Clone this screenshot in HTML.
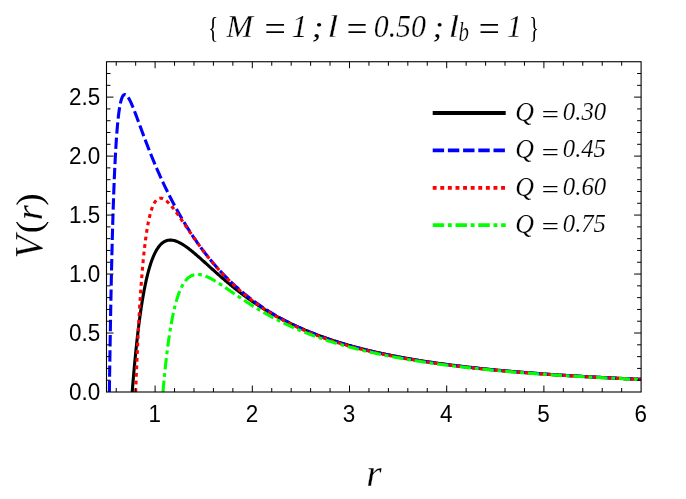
<!DOCTYPE html>
<html><head><meta charset="utf-8"><title>plot</title>
<style>
html,body{margin:0;padding:0;background:#fff;}
svg{display:block;will-change:transform}
.sans text{font-family:"Liberation Sans",sans-serif;font-size:22.7px;fill:#000}
.ser{font-family:"Liberation Serif",serif;fill:#000;stroke:#fff;stroke-width:0.25px}
</style></head><body>
<svg width="686" height="499" viewBox="0 0 686 499">
<rect width="686" height="499" fill="#fff"/>
<defs><clipPath id="c"><rect x="106.5" y="61.74" width="534.60" height="330.26"/></clipPath></defs>
<g clip-path="url(#c)" fill="none" stroke-width="3.1" stroke-linejoin="round">
<path d="M132.22 392.00 L132.35 390.34 L132.53 388.11 L132.70 385.91 L132.88 383.73 L133.06 381.58 L133.24 379.45 L133.42 377.36 L133.60 375.29 L133.77 373.24 L133.95 371.22 L134.13 369.23 L134.31 367.26 L134.49 365.32 L134.66 363.40 L134.84 361.50 L135.02 359.63 L135.20 357.79 L135.38 355.96 L135.56 354.16 L135.73 352.38 L135.91 350.63 L136.09 348.90 L136.27 347.19 L136.45 345.50 L136.63 343.83 L136.80 342.19 L136.98 340.56 L137.16 338.96 L137.34 337.38 L137.52 335.81 L137.70 334.27 L137.87 332.75 L138.05 331.25 L138.23 329.77 L138.41 328.30 L138.59 326.86 L138.76 325.43 L138.94 324.03 L139.12 322.64 L139.30 321.27 L139.48 319.92 L139.66 318.58 L139.83 317.27 L140.01 315.97 L140.19 314.69 L140.37 313.42 L140.55 312.18 L140.73 310.95 L140.90 309.73 L141.08 308.53 L141.26 307.35 L141.44 306.19 L141.62 305.04 L141.80 303.90 L141.97 302.78 L142.15 301.68 L142.33 300.59 L142.51 299.52 L142.69 298.46 L142.86 297.41 L143.04 296.38 L143.22 295.37 L143.40 294.37 L143.58 293.38 L143.76 292.40 L143.93 291.44 L144.11 290.50 L144.29 289.56 L144.47 288.64 L144.65 287.73 L144.83 286.84 L145.00 285.96 L145.18 285.09 L145.36 284.23 L145.54 283.38 L145.72 282.55 L145.90 281.73 L146.07 280.92 L146.25 280.12 L146.43 279.34 L146.61 278.56 L146.79 277.80 L146.96 277.05 L147.14 276.31 L147.32 275.58 L147.50 274.86 L147.68 274.15 L147.86 273.45 L148.03 272.76 L148.21 272.09 L148.39 271.42 L148.57 270.76 L148.75 270.12 L148.93 269.48 L149.10 268.85 L149.46 267.63 L149.82 266.44 L150.17 265.29 L150.53 264.17 L150.89 263.09 L151.24 262.04 L151.60 261.03 L151.96 260.05 L152.31 259.11 L152.67 258.19 L153.03 257.30 L153.38 256.45 L153.74 255.62 L154.10 254.82 L154.45 254.05 L154.81 253.31 L155.16 252.60 L155.52 251.91 L155.88 251.24 L156.23 250.60 L156.59 249.99 L156.95 249.40 L157.30 248.83 L157.66 248.28 L158.02 247.76 L158.37 247.26 L158.73 246.78 L159.09 246.32 L159.62 245.67 L160.16 245.06 L160.69 244.49 L161.23 243.97 L161.76 243.48 L162.30 243.03 L162.83 242.62 L163.36 242.25 L163.90 241.91 L164.43 241.60 L164.97 241.32 L165.68 241.00 L166.40 240.74 L167.11 240.52 L167.82 240.35 L168.53 240.22 L169.43 240.13 L170.32 240.09 L171.21 240.12 L172.10 240.20 L172.81 240.31 L173.53 240.45 L174.24 240.61 L174.95 240.81 L175.66 241.04 L176.38 241.29 L177.09 241.56 L177.80 241.86 L178.52 242.18 L179.23 242.53 L179.76 242.80 L180.30 243.08 L180.83 243.37 L181.37 243.68 L181.90 243.99 L182.44 244.31 L182.97 244.64 L183.51 244.98 L184.04 245.33 L184.58 245.68 L185.11 246.04 L185.65 246.41 L186.18 246.79 L186.72 247.17 L187.25 247.56 L187.79 247.96 L188.32 248.36 L188.86 248.77 L189.39 249.18 L189.93 249.60 L190.46 250.02 L190.99 250.44 L191.53 250.87 L192.06 251.31 L192.60 251.75 L193.13 252.19 L193.67 252.63 L194.20 253.08 L194.74 253.53 L195.27 253.99 L195.81 254.45 L196.34 254.91 L196.88 255.37 L197.41 255.83 L197.95 256.30 L198.48 256.77 L199.02 257.24 L199.55 257.71 L200.09 258.18 L200.62 258.66 L201.16 259.14 L201.69 259.61 L202.23 260.09 L202.76 260.57 L203.29 261.05 L203.83 261.53 L204.36 262.01 L204.90 262.50 L205.43 262.98 L205.97 263.46 L206.50 263.94 L207.04 264.43 L207.57 264.91 L208.11 265.39 L208.64 265.88 L209.18 266.36 L209.71 266.84 L210.25 267.32 L210.78 267.81 L211.32 268.29 L211.85 268.77 L212.39 269.25 L212.92 269.73 L213.46 270.21 L213.99 270.69 L214.53 271.17 L215.06 271.64 L215.59 272.12 L216.13 272.60 L216.66 273.07 L217.20 273.54 L217.73 274.02 L218.27 274.49 L218.80 274.96 L219.34 275.43 L219.87 275.90 L220.41 276.36 L220.94 276.83 L221.48 277.29 L222.01 277.76 L222.55 278.22 L223.08 278.68 L223.62 279.14 L224.15 279.59 L224.69 280.05 L225.22 280.50 L225.76 280.96 L226.29 281.41 L226.83 281.86 L227.36 282.31 L227.89 282.76 L228.43 283.20 L228.96 283.65 L229.50 284.09 L230.03 284.53 L230.57 284.97 L231.10 285.41 L231.64 285.84 L232.17 286.28 L232.71 286.71 L233.24 287.14 L233.78 287.57 L234.31 288.00 L234.85 288.42 L235.38 288.85 L235.92 289.27 L236.45 289.69 L236.99 290.11 L237.52 290.53 L238.06 290.94 L238.59 291.36 L239.13 291.77 L239.66 292.18 L240.19 292.59 L240.73 292.99 L241.26 293.40 L241.80 293.80 L242.33 294.20 L242.87 294.60 L243.40 295.00 L243.94 295.40 L244.47 295.79 L245.01 296.18 L245.54 296.57 L246.08 296.96 L246.61 297.35 L247.15 297.74 L247.68 298.12 L248.22 298.50 L248.75 298.88 L249.29 299.26 L249.82 299.64 L250.36 300.01 L250.89 300.39 L251.42 300.76 L251.96 301.13 L252.49 301.49 L253.03 301.86 L253.56 302.23 L254.10 302.59 L254.63 302.95 L255.17 303.31 L255.70 303.67 L256.24 304.02 L256.77 304.38 L257.31 304.73 L257.84 305.08 L258.38 305.43 L258.91 305.78 L259.45 306.12 L259.98 306.46 L260.52 306.81 L261.05 307.15 L261.59 307.49 L262.12 307.82 L262.66 308.16 L263.19 308.49 L263.72 308.83 L264.26 309.16 L264.79 309.48 L265.33 309.81 L265.86 310.14 L266.40 310.46 L266.93 310.78 L267.47 311.11 L268.00 311.42 L268.54 311.74 L269.07 312.06 L269.61 312.37 L270.14 312.69 L270.68 313.00 L271.21 313.31 L271.75 313.62 L272.28 313.92 L272.82 314.23 L273.35 314.53 L273.89 314.83 L274.42 315.13 L274.96 315.43 L275.49 315.73 L276.02 316.03 L276.56 316.32 L277.09 316.62 L277.63 316.91 L278.16 317.20 L278.70 317.49 L279.23 317.77 L279.77 318.06 L280.30 318.34 L280.84 318.63 L281.37 318.91 L281.91 319.19 L282.44 319.47 L282.98 319.75 L283.51 320.02 L284.05 320.30 L284.58 320.57 L285.12 320.84 L285.65 321.11 L286.19 321.38 L286.72 321.65 L287.26 321.92 L287.97 322.27 L288.68 322.62 L289.39 322.97 L290.11 323.31 L290.82 323.66 L291.53 324.00 L292.25 324.34 L292.96 324.68 L293.67 325.01 L294.39 325.34 L295.10 325.67 L295.81 326.00 L296.52 326.33 L297.24 326.65 L297.95 326.97 L298.66 327.29 L299.38 327.61 L300.09 327.92 L300.80 328.24 L301.52 328.55 L302.23 328.86 L302.94 329.16 L303.65 329.47 L304.37 329.77 L305.08 330.07 L305.79 330.37 L306.51 330.67 L307.22 330.96 L307.93 331.26 L308.65 331.55 L309.36 331.84 L310.07 332.13 L310.79 332.41 L311.50 332.69 L312.21 332.98 L312.92 333.26 L313.64 333.53 L314.35 333.81 L315.06 334.08 L315.78 334.36 L316.49 334.63 L317.20 334.90 L317.92 335.16 L318.63 335.43 L319.34 335.69 L320.05 335.96 L320.77 336.22 L321.48 336.48 L322.19 336.73 L322.91 336.99 L323.62 337.24 L324.33 337.49 L325.05 337.74 L325.76 337.99 L326.47 338.24 L327.19 338.49 L327.90 338.73 L328.61 338.97 L329.32 339.21 L330.04 339.45 L330.75 339.69 L331.46 339.93 L332.18 340.16 L332.89 340.40 L333.60 340.63 L334.32 340.86 L335.03 341.09 L335.74 341.32 L336.45 341.54 L337.17 341.77 L337.88 341.99 L338.59 342.21 L339.31 342.44 L340.02 342.65 L340.73 342.87 L341.45 343.09 L342.16 343.30 L342.87 343.52 L343.59 343.73 L344.30 343.94 L345.01 344.15 L345.72 344.36 L346.44 344.57 L347.15 344.77 L347.86 344.98 L348.58 345.18 L349.29 345.38 L350.00 345.59 L350.72 345.79 L351.43 345.98 L352.14 346.18 L352.85 346.38 L353.57 346.57 L354.28 346.77 L354.99 346.96 L355.71 347.15 L356.42 347.34 L357.13 347.53 L357.85 347.72 L358.56 347.91 L359.27 348.09 L359.98 348.28 L360.70 348.46 L361.41 348.64 L362.12 348.82 L362.84 349.00 L363.55 349.18 L364.26 349.36 L364.98 349.54 L365.69 349.71 L366.40 349.89 L367.12 350.06 L367.83 350.24 L368.54 350.41 L369.25 350.58 L369.97 350.75 L370.68 350.92 L371.39 351.09 L372.11 351.25 L372.82 351.42 L373.53 351.58 L374.25 351.75 L374.96 351.91 L375.67 352.07 L376.38 352.23 L377.10 352.40 L377.81 352.55 L378.52 352.71 L379.24 352.87 L379.95 353.03 L380.66 353.18 L381.38 353.34 L382.09 353.49 L382.80 353.64 L383.52 353.80 L384.23 353.95 L384.94 354.10 L385.65 354.25 L386.37 354.40 L387.08 354.54 L387.79 354.69 L388.51 354.84 L389.22 354.98 L389.93 355.13 L390.65 355.27 L391.36 355.41 L392.07 355.56 L392.78 355.70 L393.50 355.84 L394.21 355.98 L394.92 356.12 L395.64 356.26 L396.35 356.39 L397.06 356.53 L397.78 356.67 L398.49 356.80 L399.20 356.94 L399.92 357.07 L400.63 357.20 L401.34 357.33 L402.05 357.47 L402.77 357.60 L403.48 357.73 L404.19 357.86 L404.91 357.98 L405.62 358.11 L406.33 358.24 L407.05 358.37 L407.76 358.49 L408.47 358.62 L409.18 358.74 L409.90 358.87 L410.61 358.99 L411.32 359.11 L412.04 359.23 L412.75 359.35 L413.46 359.47 L414.18 359.59 L414.89 359.71 L415.60 359.83 L416.31 359.95 L417.03 360.07 L417.74 360.18 L418.45 360.30 L419.17 360.42 L419.88 360.53 L420.59 360.65 L421.31 360.76 L422.02 360.87 L422.73 360.98 L423.45 361.10 L424.16 361.21 L424.87 361.32 L425.58 361.43 L426.30 361.54 L427.01 361.65 L427.72 361.76 L428.44 361.86 L429.15 361.97 L429.86 362.08 L430.58 362.18 L431.29 362.29 L432.00 362.39 L432.71 362.50 L433.43 362.60 L434.14 362.71 L434.85 362.81 L435.57 362.91 L436.28 363.01 L436.99 363.12 L437.71 363.22 L438.42 363.32 L439.13 363.42 L439.85 363.52 L440.56 363.61 L441.27 363.71 L441.98 363.81 L442.70 363.91 L443.41 364.01 L444.12 364.10 L444.84 364.20 L445.55 364.29 L446.26 364.39 L446.98 364.48 L447.69 364.58 L448.40 364.67 L449.11 364.76 L449.83 364.86 L450.54 364.95 L451.25 365.04 L451.97 365.13 L452.68 365.22 L453.39 365.31 L454.11 365.40 L454.82 365.49 L455.53 365.58 L456.24 365.67 L456.96 365.76 L457.67 365.84 L458.38 365.93 L459.28 366.04 L460.17 366.15 L461.06 366.25 L461.95 366.36 L462.84 366.47 L463.73 366.57 L464.62 366.68 L465.51 366.78 L466.41 366.88 L467.30 366.99 L468.19 367.09 L469.08 367.19 L469.97 367.29 L470.86 367.39 L471.75 367.49 L472.64 367.59 L473.54 367.69 L474.43 367.79 L475.32 367.88 L476.21 367.98 L477.10 368.08 L477.99 368.17 L478.88 368.27 L479.78 368.36 L480.67 368.46 L481.56 368.55 L482.45 368.64 L483.34 368.74 L484.23 368.83 L485.12 368.92 L486.01 369.01 L486.91 369.10 L487.80 369.19 L488.69 369.28 L489.58 369.37 L490.47 369.46 L491.36 369.54 L492.25 369.63 L493.14 369.72 L494.04 369.80 L494.93 369.89 L495.82 369.97 L496.71 370.06 L497.60 370.14 L498.49 370.23 L499.38 370.31 L500.28 370.39 L501.17 370.48 L502.06 370.56 L502.95 370.64 L503.84 370.72 L504.73 370.80 L505.62 370.88 L506.51 370.96 L507.41 371.04 L508.30 371.12 L509.19 371.20 L510.08 371.27 L510.97 371.35 L511.86 371.43 L512.75 371.51 L513.64 371.58 L514.54 371.66 L515.43 371.73 L516.32 371.81 L517.21 371.88 L518.10 371.96 L518.99 372.03 L519.88 372.10 L520.77 372.18 L521.67 372.25 L522.56 372.32 L523.45 372.39 L524.34 372.46 L525.23 372.54 L526.12 372.61 L527.01 372.68 L527.91 372.75 L528.80 372.82 L529.69 372.88 L530.58 372.95 L531.47 373.02 L532.36 373.09 L533.25 373.16 L534.14 373.22 L535.04 373.29 L535.93 373.36 L536.82 373.42 L537.71 373.49 L538.60 373.56 L539.49 373.62 L540.38 373.69 L541.27 373.75 L542.17 373.82 L543.06 373.88 L543.95 373.94 L544.84 374.01 L545.73 374.07 L546.62 374.13 L547.51 374.19 L548.41 374.26 L549.30 374.32 L550.19 374.38 L551.08 374.44 L551.97 374.50 L552.86 374.56 L553.75 374.62 L554.64 374.68 L555.54 374.74 L556.43 374.80 L557.32 374.86 L558.21 374.92 L559.10 374.97 L559.99 375.03 L560.88 375.09 L561.77 375.15 L562.67 375.20 L563.56 375.26 L564.45 375.32 L565.34 375.37 L566.23 375.43 L567.12 375.49 L568.01 375.54 L568.90 375.60 L569.80 375.65 L570.69 375.71 L571.58 375.76 L572.47 375.81 L573.36 375.87 L574.25 375.92 L575.14 375.97 L576.04 376.03 L576.93 376.08 L577.82 376.13 L578.71 376.19 L579.60 376.24 L580.49 376.29 L581.38 376.34 L582.27 376.39 L583.17 376.44 L584.06 376.49 L584.95 376.54 L585.84 376.59 L586.73 376.64 L587.62 376.69 L588.51 376.74 L589.40 376.79 L590.30 376.84 L591.19 376.89 L592.08 376.94 L592.97 376.99 L593.86 377.04 L594.75 377.08 L595.64 377.13 L596.54 377.18 L597.43 377.23 L598.32 377.27 L599.21 377.32 L600.10 377.37 L600.99 377.41 L601.88 377.46 L602.77 377.50 L603.67 377.55 L604.56 377.60 L605.45 377.64 L606.34 377.69 L607.23 377.73 L608.12 377.78 L609.01 377.82 L609.90 377.86 L610.80 377.91 L611.69 377.95 L612.58 378.00 L613.47 378.04 L614.36 378.08 L615.25 378.13 L616.14 378.17 L617.03 378.21 L617.93 378.25 L618.82 378.30 L619.71 378.34 L620.60 378.38 L621.49 378.42 L622.38 378.46 L623.27 378.50 L624.17 378.54 L625.06 378.59 L625.95 378.63 L626.84 378.67 L627.73 378.71 L628.62 378.75 L629.51 378.79 L630.40 378.83 L631.30 378.87 L632.19 378.91 L633.08 378.95 L633.97 378.99 L634.86 379.02 L635.75 379.06 L636.64 379.10 L637.53 379.14 L638.43 379.18 L639.32 379.22 L640.21 379.25 L641.10 379.29 L641.10 379.29" stroke="#000"/>
<path d="M109.37 392.00 L109.53 381.10 L109.71 369.16 L109.89 357.67 L110.07 346.61 L110.24 335.97 L110.42 325.73 L110.60 315.88 L110.78 306.40 L110.96 297.29 L111.13 288.52 L111.31 280.08 L111.49 271.96 L111.67 264.16 L111.85 256.65 L112.03 249.44 L112.20 242.50 L112.38 235.83 L112.56 229.41 L112.74 223.25 L112.92 217.32 L113.10 211.62 L113.27 206.15 L113.45 200.89 L113.63 195.84 L113.81 190.99 L113.99 186.33 L114.17 181.86 L114.34 177.57 L114.52 173.44 L114.70 169.49 L114.88 165.69 L115.06 162.05 L115.23 158.56 L115.41 155.21 L115.59 152.00 L115.77 148.93 L115.95 145.98 L116.13 143.16 L116.30 140.46 L116.48 137.87 L116.66 135.40 L116.84 133.03 L117.02 130.77 L117.20 128.61 L117.37 126.54 L117.55 124.57 L117.73 122.69 L117.91 120.89 L118.09 119.18 L118.27 117.55 L118.44 115.99 L118.62 114.52 L118.80 113.11 L118.98 111.77 L119.16 110.51 L119.33 109.30 L119.51 108.16 L119.69 107.08 L119.87 106.06 L120.05 105.10 L120.23 104.19 L120.40 103.33 L120.58 102.52 L120.76 101.76 L120.94 101.05 L121.12 100.39 L121.30 99.76 L121.65 98.65 L122.01 97.68 L122.37 96.87 L122.72 96.19 L123.08 95.64 L123.61 95.03 L124.15 94.66 L124.86 94.49 L125.57 94.65 L126.11 94.95 L126.64 95.40 L127.18 95.98 L127.53 96.42 L127.89 96.91 L128.25 97.45 L128.60 98.02 L128.96 98.64 L129.32 99.28 L129.67 99.96 L130.03 100.66 L130.39 101.40 L130.74 102.15 L131.10 102.93 L131.46 103.73 L131.81 104.55 L132.17 105.38 L132.53 106.24 L132.88 107.10 L133.24 107.98 L133.60 108.87 L133.95 109.77 L134.31 110.68 L134.66 111.60 L135.02 112.53 L135.38 113.46 L135.73 114.40 L136.09 115.35 L136.45 116.30 L136.80 117.25 L137.16 118.21 L137.52 119.17 L137.87 120.13 L138.23 121.09 L138.59 122.06 L138.94 123.03 L139.30 123.99 L139.66 124.96 L140.01 125.93 L140.37 126.90 L140.73 127.86 L141.08 128.83 L141.44 129.79 L141.80 130.75 L142.15 131.72 L142.51 132.67 L142.86 133.63 L143.22 134.59 L143.58 135.54 L143.93 136.49 L144.29 137.44 L144.65 138.38 L145.00 139.33 L145.36 140.26 L145.72 141.20 L146.07 142.13 L146.43 143.06 L146.79 143.99 L147.14 144.92 L147.50 145.84 L147.86 146.75 L148.21 147.67 L148.57 148.58 L148.93 149.48 L149.28 150.39 L149.64 151.29 L150.00 152.18 L150.35 153.08 L150.71 153.96 L151.06 154.85 L151.42 155.73 L151.78 156.61 L152.13 157.48 L152.49 158.35 L152.85 159.22 L153.20 160.09 L153.56 160.95 L153.92 161.80 L154.27 162.65 L154.63 163.50 L154.99 164.35 L155.34 165.19 L155.70 166.03 L156.06 166.86 L156.41 167.69 L156.77 168.52 L157.13 169.34 L157.48 170.16 L157.84 170.98 L158.20 171.79 L158.55 172.60 L158.91 173.41 L159.26 174.21 L159.62 175.01 L159.98 175.80 L160.33 176.60 L160.69 177.38 L161.05 178.17 L161.40 178.95 L161.76 179.73 L162.12 180.50 L162.47 181.27 L162.83 182.04 L163.19 182.81 L163.54 183.57 L163.90 184.33 L164.26 185.08 L164.61 185.83 L164.97 186.58 L165.33 187.33 L165.68 188.07 L166.04 188.81 L166.40 189.54 L166.75 190.27 L167.11 191.00 L167.46 191.73 L167.82 192.45 L168.18 193.17 L168.53 193.89 L168.89 194.60 L169.25 195.31 L169.60 196.02 L169.96 196.72 L170.32 197.42 L170.67 198.12 L171.03 198.81 L171.39 199.51 L171.74 200.20 L172.10 200.88 L172.46 201.56 L172.81 202.24 L173.17 202.92 L173.53 203.60 L173.88 204.27 L174.24 204.94 L174.60 205.60 L174.95 206.26 L175.31 206.92 L175.66 207.58 L176.02 208.24 L176.38 208.89 L176.73 209.54 L177.09 210.18 L177.45 210.82 L177.80 211.46 L178.16 212.10 L178.52 212.74 L178.87 213.37 L179.23 214.00 L179.59 214.63 L179.94 215.25 L180.30 215.87 L180.66 216.49 L181.01 217.11 L181.37 217.72 L181.73 218.33 L182.08 218.94 L182.44 219.54 L182.80 220.15 L183.15 220.75 L183.51 221.34 L183.86 221.94 L184.22 222.53 L184.58 223.12 L184.93 223.71 L185.29 224.30 L185.65 224.88 L186.00 225.46 L186.36 226.04 L186.72 226.61 L187.07 227.18 L187.43 227.75 L187.79 228.32 L188.14 228.89 L188.50 229.45 L188.86 230.01 L189.21 230.57 L189.57 231.13 L189.93 231.68 L190.28 232.23 L190.64 232.78 L190.99 233.33 L191.35 233.87 L191.71 234.41 L192.06 234.95 L192.42 235.49 L192.78 236.02 L193.13 236.56 L193.49 237.09 L193.85 237.61 L194.20 238.14 L194.56 238.66 L194.92 239.18 L195.27 239.70 L195.63 240.22 L195.99 240.73 L196.34 241.25 L196.70 241.76 L197.06 242.27 L197.41 242.77 L197.77 243.28 L198.13 243.78 L198.48 244.28 L198.84 244.77 L199.19 245.27 L199.55 245.76 L199.91 246.25 L200.26 246.74 L200.62 247.23 L200.98 247.71 L201.33 248.20 L201.69 248.68 L202.05 249.16 L202.40 249.63 L202.76 250.11 L203.12 250.58 L203.47 251.05 L203.83 251.52 L204.19 251.99 L204.54 252.45 L204.90 252.91 L205.26 253.37 L205.61 253.83 L205.97 254.29 L206.33 254.75 L206.68 255.20 L207.04 255.65 L207.39 256.10 L207.75 256.55 L208.11 256.99 L208.64 257.66 L209.18 258.32 L209.71 258.97 L210.25 259.62 L210.78 260.27 L211.32 260.92 L211.85 261.55 L212.39 262.19 L212.92 262.82 L213.46 263.45 L213.99 264.07 L214.53 264.69 L215.06 265.31 L215.59 265.92 L216.13 266.53 L216.66 267.13 L217.20 267.73 L217.73 268.33 L218.27 268.92 L218.80 269.51 L219.34 270.10 L219.87 270.68 L220.41 271.26 L220.94 271.83 L221.48 272.40 L222.01 272.97 L222.55 273.53 L223.08 274.09 L223.62 274.65 L224.15 275.20 L224.69 275.75 L225.22 276.30 L225.76 276.84 L226.29 277.38 L226.83 277.92 L227.36 278.45 L227.89 278.98 L228.43 279.51 L228.96 280.03 L229.50 280.55 L230.03 281.06 L230.57 281.58 L231.10 282.09 L231.64 282.60 L232.17 283.10 L232.71 283.60 L233.24 284.10 L233.78 284.59 L234.31 285.08 L234.85 285.57 L235.38 286.06 L235.92 286.54 L236.45 287.02 L236.99 287.50 L237.52 287.97 L238.06 288.44 L238.59 288.91 L239.13 289.37 L239.66 289.84 L240.19 290.30 L240.73 290.75 L241.26 291.21 L241.80 291.66 L242.33 292.11 L242.87 292.55 L243.40 292.99 L243.94 293.43 L244.47 293.87 L245.01 294.31 L245.54 294.74 L246.08 295.17 L246.61 295.60 L247.15 296.02 L247.68 296.44 L248.22 296.86 L248.75 297.28 L249.29 297.69 L249.82 298.11 L250.36 298.52 L250.89 298.92 L251.42 299.33 L251.96 299.73 L252.49 300.13 L253.03 300.53 L253.56 300.92 L254.10 301.32 L254.63 301.71 L255.17 302.09 L255.70 302.48 L256.24 302.86 L256.77 303.24 L257.31 303.62 L257.84 304.00 L258.38 304.37 L258.91 304.75 L259.45 305.12 L259.98 305.49 L260.52 305.85 L261.05 306.22 L261.59 306.58 L262.12 306.94 L262.66 307.29 L263.19 307.65 L263.72 308.00 L264.26 308.35 L264.79 308.70 L265.33 309.05 L265.86 309.40 L266.40 309.74 L266.93 310.08 L267.47 310.42 L268.00 310.76 L268.54 311.09 L269.07 311.43 L269.61 311.76 L270.14 312.09 L270.68 312.41 L271.21 312.74 L271.75 313.06 L272.28 313.39 L272.82 313.71 L273.35 314.02 L273.89 314.34 L274.42 314.66 L274.96 314.97 L275.49 315.28 L276.02 315.59 L276.56 315.90 L277.09 316.20 L277.63 316.51 L278.16 316.81 L278.70 317.11 L279.23 317.41 L279.77 317.71 L280.30 318.01 L280.84 318.30 L281.37 318.59 L281.91 318.88 L282.44 319.17 L282.98 319.46 L283.51 319.75 L284.05 320.03 L284.58 320.31 L285.12 320.60 L285.65 320.88 L286.19 321.15 L286.72 321.43 L287.26 321.71 L287.79 321.98 L288.32 322.25 L288.86 322.52 L289.39 322.79 L289.93 323.06 L290.46 323.33 L291.18 323.68 L291.89 324.03 L292.60 324.38 L293.32 324.72 L294.03 325.07 L294.74 325.41 L295.45 325.74 L296.17 326.08 L296.88 326.41 L297.59 326.74 L298.31 327.07 L299.02 327.40 L299.73 327.72 L300.45 328.04 L301.16 328.36 L301.87 328.68 L302.59 328.99 L303.30 329.31 L304.01 329.62 L304.72 329.92 L305.44 330.23 L306.15 330.53 L306.86 330.83 L307.58 331.13 L308.29 331.43 L309.00 331.73 L309.72 332.02 L310.43 332.31 L311.14 332.60 L311.85 332.89 L312.57 333.17 L313.28 333.46 L313.99 333.74 L314.71 334.02 L315.42 334.29 L316.13 334.57 L316.85 334.84 L317.56 335.12 L318.27 335.39 L318.99 335.65 L319.70 335.92 L320.41 336.19 L321.12 336.45 L321.84 336.71 L322.55 336.97 L323.26 337.23 L323.98 337.48 L324.69 337.74 L325.40 337.99 L326.12 338.24 L326.83 338.49 L327.54 338.74 L328.25 338.98 L328.97 339.23 L329.68 339.47 L330.39 339.71 L331.11 339.95 L331.82 340.19 L332.53 340.42 L333.25 340.66 L333.96 340.89 L334.67 341.12 L335.39 341.35 L336.10 341.58 L336.81 341.81 L337.52 342.03 L338.24 342.26 L338.95 342.48 L339.66 342.70 L340.38 342.92 L341.09 343.14 L341.80 343.36 L342.52 343.57 L343.23 343.79 L343.94 344.00 L344.65 344.21 L345.37 344.42 L346.08 344.63 L346.79 344.84 L347.51 345.04 L348.22 345.25 L348.93 345.45 L349.65 345.66 L350.36 345.86 L351.07 346.06 L351.78 346.26 L352.50 346.45 L353.21 346.65 L353.92 346.84 L354.64 347.04 L355.35 347.23 L356.06 347.42 L356.78 347.61 L357.49 347.80 L358.20 347.99 L358.92 348.18 L359.63 348.36 L360.34 348.55 L361.05 348.73 L361.77 348.91 L362.48 349.09 L363.19 349.27 L363.91 349.45 L364.62 349.63 L365.33 349.81 L366.05 349.98 L366.76 350.16 L367.47 350.33 L368.18 350.50 L368.90 350.67 L369.61 350.84 L370.32 351.01 L371.04 351.18 L371.75 351.35 L372.46 351.52 L373.18 351.68 L373.89 351.85 L374.60 352.01 L375.32 352.17 L376.03 352.33 L376.74 352.49 L377.45 352.65 L378.17 352.81 L378.88 352.97 L379.59 353.13 L380.31 353.28 L381.02 353.44 L381.73 353.59 L382.45 353.74 L383.16 353.90 L383.87 354.05 L384.58 354.20 L385.30 354.35 L386.01 354.50 L386.72 354.65 L387.44 354.79 L388.15 354.94 L388.86 355.08 L389.58 355.23 L390.29 355.37 L391.00 355.52 L391.72 355.66 L392.43 355.80 L393.14 355.94 L393.85 356.08 L394.57 356.22 L395.28 356.36 L395.99 356.49 L396.71 356.63 L397.42 356.77 L398.13 356.90 L398.85 357.04 L399.56 357.17 L400.27 357.30 L400.98 357.44 L401.70 357.57 L402.41 357.70 L403.12 357.83 L403.84 357.96 L404.55 358.08 L405.26 358.21 L405.98 358.34 L406.69 358.47 L407.40 358.59 L408.11 358.72 L408.83 358.84 L409.54 358.97 L410.25 359.09 L410.97 359.21 L411.68 359.33 L412.39 359.45 L413.11 359.57 L413.82 359.69 L414.53 359.81 L415.25 359.93 L415.96 360.05 L416.67 360.17 L417.38 360.28 L418.10 360.40 L418.81 360.51 L419.52 360.63 L420.24 360.74 L420.95 360.86 L421.66 360.97 L422.38 361.08 L423.09 361.19 L423.80 361.30 L424.51 361.41 L425.23 361.52 L425.94 361.63 L426.65 361.74 L427.37 361.85 L428.08 361.96 L428.79 362.06 L429.51 362.17 L430.22 362.28 L430.93 362.38 L431.65 362.49 L432.36 362.59 L433.07 362.70 L433.78 362.80 L434.50 362.90 L435.21 363.00 L435.92 363.11 L436.64 363.21 L437.35 363.31 L438.06 363.41 L438.78 363.51 L439.49 363.61 L440.20 363.70 L440.91 363.80 L441.63 363.90 L442.34 364.00 L443.05 364.09 L443.77 364.19 L444.48 364.29 L445.19 364.38 L445.91 364.48 L446.62 364.57 L447.33 364.66 L448.05 364.76 L448.76 364.85 L449.47 364.94 L450.18 365.03 L450.90 365.12 L451.61 365.22 L452.32 365.31 L453.04 365.40 L453.75 365.49 L454.46 365.57 L455.18 365.66 L455.89 365.75 L456.60 365.84 L457.31 365.93 L458.03 366.01 L458.92 366.12 L459.81 366.23 L460.70 366.34 L461.59 366.44 L462.48 366.55 L463.38 366.65 L464.27 366.76 L465.16 366.86 L466.05 366.96 L466.94 367.07 L467.83 367.17 L468.72 367.27 L469.61 367.37 L470.51 367.47 L471.40 367.57 L472.29 367.67 L473.18 367.77 L474.07 367.86 L474.96 367.96 L475.85 368.06 L476.74 368.15 L477.64 368.25 L478.53 368.34 L479.42 368.44 L480.31 368.53 L481.20 368.62 L482.09 368.72 L482.98 368.81 L483.88 368.90 L484.77 368.99 L485.66 369.08 L486.55 369.17 L487.44 369.26 L488.33 369.35 L489.22 369.44 L490.11 369.52 L491.01 369.61 L491.90 369.70 L492.79 369.79 L493.68 369.87 L494.57 369.96 L495.46 370.04 L496.35 370.13 L497.24 370.21 L498.14 370.29 L499.03 370.38 L499.92 370.46 L500.81 370.54 L501.70 370.62 L502.59 370.70 L503.48 370.78 L504.38 370.86 L505.27 370.94 L506.16 371.02 L507.05 371.10 L507.94 371.18 L508.83 371.26 L509.72 371.34 L510.61 371.41 L511.51 371.49 L512.40 371.57 L513.29 371.64 L514.18 371.72 L515.07 371.79 L515.96 371.87 L516.85 371.94 L517.74 372.02 L518.64 372.09 L519.53 372.16 L520.42 372.23 L521.31 372.31 L522.20 372.38 L523.09 372.45 L523.98 372.52 L524.87 372.59 L525.77 372.66 L526.66 372.73 L527.55 372.80 L528.44 372.87 L529.33 372.94 L530.22 373.01 L531.11 373.08 L532.01 373.14 L532.90 373.21 L533.79 373.28 L534.68 373.35 L535.57 373.41 L536.46 373.48 L537.35 373.54 L538.24 373.61 L539.14 373.67 L540.03 373.74 L540.92 373.80 L541.81 373.87 L542.70 373.93 L543.59 373.99 L544.48 374.06 L545.37 374.12 L546.27 374.18 L547.16 374.24 L548.05 374.30 L548.94 374.37 L549.83 374.43 L550.72 374.49 L551.61 374.55 L552.51 374.61 L553.40 374.67 L554.29 374.73 L555.18 374.79 L556.07 374.85 L556.96 374.90 L557.85 374.96 L558.74 375.02 L559.64 375.08 L560.53 375.14 L561.42 375.19 L562.31 375.25 L563.20 375.31 L564.09 375.36 L564.98 375.42 L565.87 375.47 L566.77 375.53 L567.66 375.59 L568.55 375.64 L569.44 375.69 L570.33 375.75 L571.22 375.80 L572.11 375.86 L573.00 375.91 L573.90 375.96 L574.79 376.02 L575.68 376.07 L576.57 376.12 L577.46 376.17 L578.35 376.23 L579.24 376.28 L580.14 376.33 L581.03 376.38 L581.92 376.43 L582.81 376.48 L583.70 376.53 L584.59 376.58 L585.48 376.63 L586.37 376.68 L587.27 376.73 L588.16 376.78 L589.05 376.83 L589.94 376.88 L590.83 376.93 L591.72 376.98 L592.61 377.03 L593.50 377.07 L594.40 377.12 L595.29 377.17 L596.18 377.22 L597.07 377.26 L597.96 377.31 L598.85 377.36 L599.74 377.40 L600.64 377.45 L601.53 377.49 L602.42 377.54 L603.31 377.59 L604.20 377.63 L605.09 377.68 L605.98 377.72 L606.87 377.77 L607.77 377.81 L608.66 377.85 L609.55 377.90 L610.44 377.94 L611.33 377.99 L612.22 378.03 L613.11 378.07 L614.00 378.12 L614.90 378.16 L615.79 378.20 L616.68 378.24 L617.57 378.29 L618.46 378.33 L619.35 378.37 L620.24 378.41 L621.13 378.45 L622.03 378.49 L622.92 378.54 L623.81 378.58 L624.70 378.62 L625.59 378.66 L626.48 378.70 L627.37 378.74 L628.27 378.78 L629.16 378.82 L630.05 378.86 L630.94 378.90 L631.83 378.94 L632.72 378.98 L633.61 379.01 L634.50 379.05 L635.40 379.09 L636.29 379.13 L637.18 379.17 L638.07 379.21 L638.96 379.25 L639.85 379.28 L640.74 379.32 L641.10 379.34" stroke="#0000ff" stroke-dasharray="11.4 3.8"/>
<path d="M135.66 392.00 L135.73 390.00 L135.91 385.29 L136.09 380.68 L136.27 376.18 L136.45 371.77 L136.63 367.47 L136.80 363.25 L136.98 359.13 L137.16 355.10 L137.34 351.16 L137.52 347.30 L137.70 343.53 L137.87 339.84 L138.05 336.23 L138.23 332.71 L138.41 329.26 L138.59 325.89 L138.76 322.59 L138.94 319.36 L139.12 316.21 L139.30 313.13 L139.48 310.11 L139.66 307.17 L139.83 304.29 L140.01 301.47 L140.19 298.71 L140.37 296.02 L140.55 293.39 L140.73 290.82 L140.90 288.30 L141.08 285.84 L141.26 283.44 L141.44 281.09 L141.62 278.80 L141.80 276.55 L141.97 274.36 L142.15 272.22 L142.33 270.12 L142.51 268.08 L142.69 266.08 L142.86 264.13 L143.04 262.22 L143.22 260.36 L143.40 258.54 L143.58 256.76 L143.76 255.03 L143.93 253.33 L144.11 251.68 L144.29 250.06 L144.47 248.48 L144.65 246.94 L144.83 245.44 L145.00 243.97 L145.18 242.54 L145.36 241.14 L145.54 239.78 L145.72 238.44 L145.90 237.15 L146.07 235.88 L146.25 234.64 L146.43 233.44 L146.61 232.26 L146.79 231.12 L146.96 230.00 L147.14 228.91 L147.32 227.85 L147.50 226.82 L147.68 225.81 L147.86 224.83 L148.03 223.87 L148.21 222.94 L148.39 222.03 L148.57 221.15 L148.75 220.29 L148.93 219.45 L149.10 218.64 L149.28 217.85 L149.46 217.08 L149.64 216.33 L149.82 215.60 L150.00 214.89 L150.17 214.21 L150.35 213.54 L150.53 212.89 L150.71 212.26 L151.06 211.05 L151.42 209.92 L151.78 208.86 L152.13 207.86 L152.49 206.92 L152.85 206.04 L153.20 205.23 L153.56 204.47 L153.92 203.76 L154.27 203.10 L154.63 202.50 L154.99 201.94 L155.34 201.43 L155.70 200.96 L156.23 200.33 L156.77 199.80 L157.30 199.35 L157.84 198.98 L158.37 198.69 L159.09 198.41 L159.80 198.24 L160.69 198.19 L161.58 198.28 L162.30 198.46 L163.01 198.72 L163.72 199.05 L164.26 199.34 L164.79 199.67 L165.33 200.04 L165.86 200.43 L166.40 200.86 L166.93 201.32 L167.46 201.80 L168.00 202.30 L168.53 202.83 L169.07 203.38 L169.60 203.96 L170.14 204.55 L170.67 205.15 L171.21 205.78 L171.74 206.42 L172.28 207.07 L172.63 207.52 L172.99 207.97 L173.35 208.42 L173.70 208.88 L174.06 209.35 L174.42 209.82 L174.77 210.29 L175.13 210.77 L175.49 211.25 L175.84 211.73 L176.20 212.22 L176.56 212.71 L176.91 213.21 L177.27 213.71 L177.63 214.21 L177.98 214.71 L178.34 215.22 L178.70 215.72 L179.05 216.23 L179.41 216.74 L179.76 217.26 L180.12 217.77 L180.48 218.29 L180.83 218.81 L181.19 219.33 L181.55 219.85 L181.90 220.37 L182.26 220.89 L182.62 221.41 L182.97 221.94 L183.33 222.46 L183.69 222.98 L184.04 223.51 L184.40 224.03 L184.76 224.56 L185.11 225.08 L185.47 225.61 L185.83 226.14 L186.18 226.66 L186.54 227.19 L186.89 227.71 L187.25 228.24 L187.61 228.76 L187.96 229.28 L188.32 229.81 L188.68 230.33 L189.03 230.85 L189.39 231.37 L189.75 231.89 L190.10 232.41 L190.46 232.93 L190.82 233.45 L191.17 233.97 L191.53 234.49 L191.89 235.00 L192.24 235.52 L192.60 236.03 L192.96 236.54 L193.31 237.05 L193.67 237.56 L194.03 238.07 L194.38 238.58 L194.74 239.09 L195.09 239.59 L195.45 240.10 L195.81 240.60 L196.16 241.10 L196.52 241.60 L196.88 242.10 L197.23 242.59 L197.59 243.09 L197.95 243.58 L198.30 244.08 L198.66 244.57 L199.02 245.06 L199.37 245.55 L199.73 246.03 L200.09 246.52 L200.44 247.00 L200.80 247.49 L201.16 247.97 L201.51 248.45 L201.87 248.92 L202.23 249.40 L202.58 249.87 L202.94 250.35 L203.29 250.82 L203.65 251.29 L204.01 251.75 L204.36 252.22 L204.72 252.68 L205.08 253.15 L205.43 253.61 L205.79 254.07 L206.15 254.53 L206.50 254.98 L206.86 255.44 L207.22 255.89 L207.57 256.34 L207.93 256.79 L208.29 257.24 L208.64 257.68 L209.00 258.13 L209.53 258.79 L210.07 259.45 L210.60 260.11 L211.14 260.76 L211.67 261.41 L212.21 262.05 L212.74 262.69 L213.28 263.33 L213.81 263.96 L214.35 264.59 L214.88 265.21 L215.42 265.84 L215.95 266.45 L216.49 267.07 L217.02 267.68 L217.56 268.28 L218.09 268.89 L218.63 269.49 L219.16 270.08 L219.69 270.67 L220.23 271.26 L220.76 271.85 L221.30 272.43 L221.83 273.00 L222.37 273.58 L222.90 274.15 L223.44 274.72 L223.97 275.28 L224.51 275.84 L225.04 276.39 L225.58 276.95 L226.11 277.50 L226.65 278.04 L227.18 278.58 L227.72 279.12 L228.25 279.66 L228.79 280.19 L229.32 280.72 L229.86 281.24 L230.39 281.77 L230.93 282.29 L231.46 282.80 L231.99 283.31 L232.53 283.82 L233.06 284.33 L233.60 284.83 L234.13 285.33 L234.67 285.83 L235.20 286.32 L235.74 286.81 L236.27 287.30 L236.81 287.78 L237.34 288.26 L237.88 288.74 L238.41 289.22 L238.95 289.69 L239.48 290.16 L240.02 290.62 L240.55 291.09 L241.09 291.55 L241.62 292.00 L242.16 292.46 L242.69 292.91 L243.22 293.36 L243.76 293.80 L244.29 294.25 L244.83 294.69 L245.36 295.13 L245.90 295.56 L246.43 295.99 L246.97 296.42 L247.50 296.85 L248.04 297.28 L248.57 297.70 L249.11 298.12 L249.64 298.53 L250.18 298.95 L250.71 299.36 L251.25 299.77 L251.78 300.17 L252.32 300.58 L252.85 300.98 L253.39 301.38 L253.92 301.77 L254.46 302.17 L254.99 302.56 L255.52 302.95 L256.06 303.34 L256.59 303.72 L257.13 304.10 L257.66 304.48 L258.20 304.86 L258.73 305.24 L259.27 305.61 L259.80 305.98 L260.34 306.35 L260.87 306.71 L261.41 307.08 L261.94 307.44 L262.48 307.80 L263.01 308.16 L263.55 308.51 L264.08 308.87 L264.62 309.22 L265.15 309.57 L265.69 309.91 L266.22 310.26 L266.76 310.60 L267.29 310.94 L267.82 311.28 L268.36 311.62 L268.89 311.95 L269.43 312.29 L269.96 312.62 L270.50 312.95 L271.03 313.27 L271.57 313.60 L272.10 313.92 L272.64 314.24 L273.17 314.56 L273.71 314.88 L274.24 315.20 L274.78 315.51 L275.31 315.82 L275.85 316.13 L276.38 316.44 L276.92 316.75 L277.45 317.05 L277.99 317.35 L278.52 317.66 L279.06 317.96 L279.59 318.25 L280.12 318.55 L280.66 318.84 L281.19 319.14 L281.73 319.43 L282.26 319.72 L282.80 320.01 L283.33 320.29 L283.87 320.58 L284.40 320.86 L284.94 321.14 L285.47 321.42 L286.01 321.70 L286.54 321.98 L287.08 322.25 L287.61 322.52 L288.15 322.80 L288.68 323.07 L289.22 323.34 L289.75 323.60 L290.29 323.87 L291.00 324.22 L291.71 324.57 L292.42 324.92 L293.14 325.26 L293.85 325.60 L294.56 325.94 L295.28 326.28 L295.99 326.62 L296.70 326.95 L297.42 327.28 L298.13 327.60 L298.84 327.93 L299.55 328.25 L300.27 328.57 L300.98 328.89 L301.69 329.21 L302.41 329.52 L303.12 329.83 L303.83 330.14 L304.55 330.45 L305.26 330.75 L305.97 331.05 L306.69 331.35 L307.40 331.65 L308.11 331.95 L308.82 332.24 L309.54 332.53 L310.25 332.82 L310.96 333.11 L311.68 333.40 L312.39 333.68 L313.10 333.96 L313.82 334.24 L314.53 334.52 L315.24 334.79 L315.95 335.07 L316.67 335.34 L317.38 335.61 L318.09 335.88 L318.81 336.14 L319.52 336.41 L320.23 336.67 L320.95 336.93 L321.66 337.19 L322.37 337.45 L323.09 337.71 L323.80 337.96 L324.51 338.21 L325.22 338.46 L325.94 338.71 L326.65 338.96 L327.36 339.20 L328.08 339.45 L328.79 339.69 L329.50 339.93 L330.22 340.17 L330.93 340.41 L331.64 340.64 L332.35 340.88 L333.07 341.11 L333.78 341.34 L334.49 341.57 L335.21 341.80 L335.92 342.03 L336.63 342.25 L337.35 342.47 L338.06 342.70 L338.77 342.92 L339.49 343.14 L340.20 343.36 L340.91 343.57 L341.62 343.79 L342.34 344.00 L343.05 344.21 L343.76 344.42 L344.48 344.63 L345.19 344.84 L345.90 345.05 L346.62 345.25 L347.33 345.46 L348.04 345.66 L348.75 345.86 L349.47 346.06 L350.18 346.26 L350.89 346.46 L351.61 346.66 L352.32 346.85 L353.03 347.05 L353.75 347.24 L354.46 347.43 L355.17 347.62 L355.88 347.81 L356.60 348.00 L357.31 348.19 L358.02 348.37 L358.74 348.56 L359.45 348.74 L360.16 348.93 L360.88 349.11 L361.59 349.29 L362.30 349.47 L363.02 349.64 L363.73 349.82 L364.44 350.00 L365.15 350.17 L365.87 350.35 L366.58 350.52 L367.29 350.69 L368.01 350.86 L368.72 351.03 L369.43 351.20 L370.15 351.37 L370.86 351.53 L371.57 351.70 L372.28 351.86 L373.00 352.03 L373.71 352.19 L374.42 352.35 L375.14 352.51 L375.85 352.67 L376.56 352.83 L377.28 352.99 L377.99 353.15 L378.70 353.30 L379.42 353.46 L380.13 353.61 L380.84 353.77 L381.55 353.92 L382.27 354.07 L382.98 354.22 L383.69 354.37 L384.41 354.52 L385.12 354.67 L385.83 354.81 L386.55 354.96 L387.26 355.11 L387.97 355.25 L388.68 355.39 L389.40 355.54 L390.11 355.68 L390.82 355.82 L391.54 355.96 L392.25 356.10 L392.96 356.24 L393.68 356.38 L394.39 356.52 L395.10 356.65 L395.82 356.79 L396.53 356.92 L397.24 357.06 L397.95 357.19 L398.67 357.32 L399.38 357.46 L400.09 357.59 L400.81 357.72 L401.52 357.85 L402.23 357.98 L402.95 358.11 L403.66 358.23 L404.37 358.36 L405.08 358.49 L405.80 358.61 L406.51 358.74 L407.22 358.86 L407.94 358.99 L408.65 359.11 L409.36 359.23 L410.08 359.35 L410.79 359.47 L411.50 359.59 L412.21 359.71 L412.93 359.83 L413.64 359.95 L414.35 360.07 L415.07 360.19 L415.78 360.30 L416.49 360.42 L417.21 360.53 L417.92 360.65 L418.63 360.76 L419.35 360.88 L420.06 360.99 L420.77 361.10 L421.48 361.21 L422.20 361.32 L422.91 361.43 L423.62 361.54 L424.34 361.65 L425.05 361.76 L425.76 361.87 L426.48 361.98 L427.19 362.08 L427.90 362.19 L428.61 362.30 L429.33 362.40 L430.04 362.51 L430.75 362.61 L431.47 362.71 L432.18 362.82 L432.89 362.92 L433.61 363.02 L434.32 363.12 L435.03 363.22 L435.75 363.33 L436.46 363.43 L437.17 363.52 L437.88 363.62 L438.60 363.72 L439.31 363.82 L440.02 363.92 L440.74 364.01 L441.45 364.11 L442.16 364.21 L442.88 364.30 L443.59 364.40 L444.30 364.49 L445.01 364.59 L445.73 364.68 L446.44 364.77 L447.15 364.87 L447.87 364.96 L448.58 365.05 L449.29 365.14 L450.01 365.23 L450.72 365.32 L451.43 365.41 L452.15 365.50 L452.86 365.59 L453.57 365.68 L454.28 365.77 L455.00 365.85 L455.71 365.94 L456.60 366.05 L457.49 366.16 L458.38 366.27 L459.28 366.37 L460.17 366.48 L461.06 366.58 L461.95 366.69 L462.84 366.79 L463.73 366.90 L464.62 367.00 L465.51 367.10 L466.41 367.20 L467.30 367.30 L468.19 367.40 L469.08 367.50 L469.97 367.60 L470.86 367.70 L471.75 367.80 L472.64 367.89 L473.54 367.99 L474.43 368.09 L475.32 368.18 L476.21 368.28 L477.10 368.37 L477.99 368.47 L478.88 368.56 L479.78 368.65 L480.67 368.75 L481.56 368.84 L482.45 368.93 L483.34 369.02 L484.23 369.11 L485.12 369.20 L486.01 369.29 L486.91 369.38 L487.80 369.46 L488.69 369.55 L489.58 369.64 L490.47 369.73 L491.36 369.81 L492.25 369.90 L493.14 369.98 L494.04 370.07 L494.93 370.15 L495.82 370.24 L496.71 370.32 L497.60 370.40 L498.49 370.48 L499.38 370.57 L500.28 370.65 L501.17 370.73 L502.06 370.81 L502.95 370.89 L503.84 370.97 L504.73 371.05 L505.62 371.13 L506.51 371.20 L507.41 371.28 L508.30 371.36 L509.19 371.44 L510.08 371.51 L510.97 371.59 L511.86 371.66 L512.75 371.74 L513.64 371.81 L514.54 371.89 L515.43 371.96 L516.32 372.04 L517.21 372.11 L518.10 372.18 L518.99 372.26 L519.88 372.33 L520.77 372.40 L521.67 372.47 L522.56 372.54 L523.45 372.61 L524.34 372.68 L525.23 372.75 L526.12 372.82 L527.01 372.89 L527.91 372.96 L528.80 373.03 L529.69 373.10 L530.58 373.16 L531.47 373.23 L532.36 373.30 L533.25 373.36 L534.14 373.43 L535.04 373.50 L535.93 373.56 L536.82 373.63 L537.71 373.69 L538.60 373.76 L539.49 373.82 L540.38 373.88 L541.27 373.95 L542.17 374.01 L543.06 374.07 L543.95 374.13 L544.84 374.20 L545.73 374.26 L546.62 374.32 L547.51 374.38 L548.41 374.44 L549.30 374.50 L550.19 374.56 L551.08 374.62 L551.97 374.68 L552.86 374.74 L553.75 374.80 L554.64 374.86 L555.54 374.92 L556.43 374.98 L557.32 375.03 L558.21 375.09 L559.10 375.15 L559.99 375.21 L560.88 375.26 L561.77 375.32 L562.67 375.38 L563.56 375.43 L564.45 375.49 L565.34 375.54 L566.23 375.60 L567.12 375.65 L568.01 375.71 L568.90 375.76 L569.80 375.82 L570.69 375.87 L571.58 375.92 L572.47 375.98 L573.36 376.03 L574.25 376.08 L575.14 376.13 L576.04 376.19 L576.93 376.24 L577.82 376.29 L578.71 376.34 L579.60 376.39 L580.49 376.44 L581.38 376.49 L582.27 376.54 L583.17 376.59 L584.06 376.64 L584.95 376.69 L585.84 376.74 L586.73 376.79 L587.62 376.84 L588.51 376.89 L589.40 376.94 L590.30 376.99 L591.19 377.03 L592.08 377.08 L592.97 377.13 L593.86 377.18 L594.75 377.22 L595.64 377.27 L596.54 377.32 L597.43 377.37 L598.32 377.41 L599.21 377.46 L600.10 377.50 L600.99 377.55 L601.88 377.59 L602.77 377.64 L603.67 377.68 L604.56 377.73 L605.45 377.77 L606.34 377.82 L607.23 377.86 L608.12 377.91 L609.01 377.95 L609.90 377.99 L610.80 378.04 L611.69 378.08 L612.58 378.12 L613.47 378.17 L614.36 378.21 L615.25 378.25 L616.14 378.29 L617.03 378.33 L617.93 378.38 L618.82 378.42 L619.71 378.46 L620.60 378.50 L621.49 378.54 L622.38 378.58 L623.27 378.62 L624.17 378.66 L625.06 378.70 L625.95 378.74 L626.84 378.78 L627.73 378.82 L628.62 378.86 L629.51 378.90 L630.40 378.94 L631.30 378.98 L632.19 379.02 L633.08 379.06 L633.97 379.10 L634.86 379.14 L635.75 379.17 L636.64 379.21 L637.53 379.25 L638.43 379.29 L639.32 379.33 L640.21 379.36 L641.10 379.40 L641.10 379.40" stroke="#ff0000" stroke-dasharray="3.8 3.8"/>
<path d="M162.99 392.00 L163.19 389.69 L163.36 387.67 L163.54 385.67 L163.72 383.71 L163.90 381.78 L164.08 379.87 L164.26 378.00 L164.43 376.16 L164.61 374.34 L164.79 372.56 L164.97 370.80 L165.15 369.07 L165.33 367.36 L165.50 365.68 L165.68 364.03 L165.86 362.41 L166.04 360.81 L166.22 359.23 L166.40 357.68 L166.57 356.16 L166.75 354.65 L166.93 353.18 L167.11 351.72 L167.29 350.29 L167.46 348.88 L167.64 347.49 L167.82 346.13 L168.00 344.78 L168.18 343.46 L168.36 342.16 L168.53 340.88 L168.71 339.62 L168.89 338.38 L169.07 337.15 L169.25 335.95 L169.43 334.77 L169.60 333.61 L169.78 332.46 L169.96 331.33 L170.14 330.23 L170.32 329.13 L170.50 328.06 L170.67 327.00 L170.85 325.97 L171.03 324.94 L171.21 323.94 L171.39 322.95 L171.56 321.97 L171.74 321.02 L171.92 320.07 L172.10 319.15 L172.28 318.23 L172.46 317.34 L172.63 316.46 L172.81 315.59 L172.99 314.73 L173.17 313.89 L173.35 313.07 L173.53 312.26 L173.70 311.46 L173.88 310.67 L174.06 309.90 L174.24 309.14 L174.42 308.39 L174.60 307.66 L174.77 306.94 L174.95 306.23 L175.13 305.53 L175.31 304.85 L175.49 304.17 L175.66 303.51 L175.84 302.86 L176.02 302.22 L176.20 301.59 L176.56 300.36 L176.91 299.18 L177.27 298.03 L177.63 296.93 L177.98 295.87 L178.34 294.84 L178.70 293.85 L179.05 292.89 L179.41 291.97 L179.76 291.09 L180.12 290.23 L180.48 289.41 L180.83 288.62 L181.19 287.85 L181.55 287.12 L181.90 286.42 L182.26 285.74 L182.62 285.09 L182.97 284.47 L183.33 283.87 L183.69 283.29 L184.04 282.74 L184.40 282.21 L184.76 281.71 L185.11 281.23 L185.47 280.77 L186.00 280.11 L186.54 279.50 L187.07 278.94 L187.61 278.41 L188.14 277.93 L188.68 277.48 L189.21 277.07 L189.75 276.70 L190.28 276.36 L190.82 276.05 L191.35 275.77 L192.06 275.44 L192.78 275.17 L193.49 274.94 L194.20 274.75 L194.92 274.61 L195.63 274.50 L196.52 274.43 L197.41 274.40 L198.30 274.43 L199.19 274.51 L199.91 274.60 L200.62 274.72 L201.33 274.86 L202.05 275.03 L202.76 275.22 L203.47 275.43 L204.19 275.67 L204.90 275.92 L205.61 276.18 L206.33 276.47 L207.04 276.77 L207.75 277.08 L208.46 277.41 L209.18 277.75 L209.89 278.11 L210.43 278.38 L210.96 278.66 L211.49 278.94 L212.03 279.23 L212.56 279.53 L213.10 279.83 L213.63 280.13 L214.17 280.44 L214.70 280.76 L215.24 281.07 L215.77 281.40 L216.31 281.72 L216.84 282.05 L217.38 282.38 L217.91 282.72 L218.45 283.05 L218.98 283.39 L219.52 283.74 L220.05 284.08 L220.59 284.43 L221.12 284.78 L221.66 285.13 L222.19 285.48 L222.73 285.84 L223.26 286.20 L223.79 286.55 L224.33 286.91 L224.86 287.27 L225.40 287.63 L225.93 288.00 L226.47 288.36 L227.00 288.72 L227.54 289.09 L228.07 289.45 L228.61 289.82 L229.14 290.18 L229.68 290.55 L230.21 290.92 L230.75 291.28 L231.28 291.65 L231.82 292.02 L232.35 292.38 L232.89 292.75 L233.42 293.11 L233.96 293.48 L234.49 293.85 L235.03 294.21 L235.56 294.58 L236.09 294.94 L236.63 295.31 L237.16 295.67 L237.70 296.03 L238.23 296.40 L238.77 296.76 L239.30 297.12 L239.84 297.48 L240.37 297.84 L240.91 298.20 L241.44 298.56 L241.98 298.91 L242.51 299.27 L243.05 299.63 L243.58 299.98 L244.12 300.33 L244.65 300.69 L245.19 301.04 L245.72 301.39 L246.26 301.74 L246.79 302.09 L247.32 302.43 L247.86 302.78 L248.39 303.13 L248.93 303.47 L249.46 303.81 L250.00 304.15 L250.53 304.49 L251.07 304.83 L251.60 305.17 L252.14 305.51 L252.67 305.84 L253.21 306.18 L253.74 306.51 L254.28 306.84 L254.81 307.17 L255.35 307.50 L255.88 307.83 L256.42 308.16 L256.95 308.48 L257.49 308.81 L258.02 309.13 L258.56 309.45 L259.09 309.77 L259.62 310.09 L260.16 310.41 L260.69 310.73 L261.23 311.04 L261.76 311.35 L262.30 311.67 L262.83 311.98 L263.37 312.29 L263.90 312.59 L264.44 312.90 L264.97 313.21 L265.51 313.51 L266.04 313.81 L266.58 314.11 L267.11 314.41 L267.65 314.71 L268.18 315.01 L268.72 315.31 L269.25 315.60 L269.79 315.89 L270.32 316.19 L270.86 316.48 L271.39 316.77 L271.92 317.05 L272.46 317.34 L272.99 317.63 L273.53 317.91 L274.06 318.19 L274.60 318.47 L275.13 318.75 L275.67 319.03 L276.20 319.31 L276.74 319.59 L277.27 319.86 L277.81 320.13 L278.34 320.41 L278.88 320.68 L279.41 320.95 L279.95 321.21 L280.48 321.48 L281.02 321.75 L281.73 322.10 L282.44 322.45 L283.16 322.80 L283.87 323.14 L284.58 323.49 L285.29 323.83 L286.01 324.17 L286.72 324.50 L287.43 324.84 L288.15 325.17 L288.86 325.50 L289.57 325.83 L290.29 326.15 L291.00 326.48 L291.71 326.80 L292.42 327.12 L293.14 327.44 L293.85 327.75 L294.56 328.07 L295.28 328.38 L295.99 328.69 L296.70 328.99 L297.42 329.30 L298.13 329.60 L298.84 329.90 L299.55 330.20 L300.27 330.50 L300.98 330.80 L301.69 331.09 L302.41 331.38 L303.12 331.67 L303.83 331.96 L304.55 332.25 L305.26 332.53 L305.97 332.81 L306.69 333.09 L307.40 333.37 L308.11 333.65 L308.82 333.93 L309.54 334.20 L310.25 334.47 L310.96 334.74 L311.68 335.01 L312.39 335.27 L313.10 335.54 L313.82 335.80 L314.53 336.06 L315.24 336.32 L315.95 336.58 L316.67 336.84 L317.38 337.09 L318.09 337.35 L318.81 337.60 L319.52 337.85 L320.23 338.09 L320.95 338.34 L321.66 338.59 L322.37 338.83 L323.09 339.07 L323.80 339.31 L324.51 339.55 L325.22 339.79 L325.94 340.02 L326.65 340.26 L327.36 340.49 L328.08 340.72 L328.79 340.95 L329.50 341.18 L330.22 341.41 L330.93 341.63 L331.64 341.86 L332.35 342.08 L333.07 342.30 L333.78 342.52 L334.49 342.74 L335.21 342.96 L335.92 343.17 L336.63 343.39 L337.35 343.60 L338.06 343.81 L338.77 344.02 L339.49 344.23 L340.20 344.44 L340.91 344.65 L341.62 344.85 L342.34 345.06 L343.05 345.26 L343.76 345.46 L344.48 345.66 L345.19 345.86 L345.90 346.06 L346.62 346.26 L347.33 346.45 L348.04 346.65 L348.75 346.84 L349.47 347.03 L350.18 347.22 L350.89 347.41 L351.61 347.60 L352.32 347.79 L353.03 347.97 L353.75 348.16 L354.46 348.34 L355.17 348.53 L355.88 348.71 L356.60 348.89 L357.31 349.07 L358.02 349.25 L358.74 349.43 L359.45 349.60 L360.16 349.78 L360.88 349.95 L361.59 350.13 L362.30 350.30 L363.02 350.47 L363.73 350.64 L364.44 350.81 L365.15 350.98 L365.87 351.14 L366.58 351.31 L367.29 351.48 L368.01 351.64 L368.72 351.80 L369.43 351.97 L370.15 352.13 L370.86 352.29 L371.57 352.45 L372.28 352.61 L373.00 352.76 L373.71 352.92 L374.42 353.08 L375.14 353.23 L375.85 353.39 L376.56 353.54 L377.28 353.69 L377.99 353.84 L378.70 353.99 L379.42 354.14 L380.13 354.29 L380.84 354.44 L381.55 354.59 L382.27 354.74 L382.98 354.88 L383.69 355.03 L384.41 355.17 L385.12 355.31 L385.83 355.46 L386.55 355.60 L387.26 355.74 L387.97 355.88 L388.68 356.02 L389.40 356.16 L390.11 356.29 L390.82 356.43 L391.54 356.57 L392.25 356.70 L392.96 356.84 L393.68 356.97 L394.39 357.10 L395.10 357.24 L395.82 357.37 L396.53 357.50 L397.24 357.63 L397.95 357.76 L398.67 357.89 L399.38 358.02 L400.09 358.14 L400.81 358.27 L401.52 358.40 L402.23 358.52 L402.95 358.65 L403.66 358.77 L404.37 358.89 L405.08 359.02 L405.80 359.14 L406.51 359.26 L407.22 359.38 L407.94 359.50 L408.65 359.62 L409.36 359.74 L410.08 359.86 L410.79 359.97 L411.50 360.09 L412.21 360.21 L412.93 360.32 L413.64 360.44 L414.35 360.55 L415.07 360.67 L415.78 360.78 L416.49 360.89 L417.21 361.00 L417.92 361.11 L418.63 361.23 L419.35 361.34 L420.06 361.45 L420.77 361.55 L421.48 361.66 L422.20 361.77 L422.91 361.88 L423.62 361.99 L424.34 362.09 L425.05 362.20 L425.76 362.30 L426.48 362.41 L427.19 362.51 L427.90 362.62 L428.61 362.72 L429.33 362.82 L430.04 362.92 L430.75 363.02 L431.47 363.13 L432.18 363.23 L432.89 363.33 L433.61 363.43 L434.32 363.52 L435.03 363.62 L435.75 363.72 L436.46 363.82 L437.17 363.92 L437.88 364.01 L438.60 364.11 L439.31 364.20 L440.02 364.30 L440.74 364.39 L441.45 364.49 L442.16 364.58 L442.88 364.67 L443.59 364.77 L444.30 364.86 L445.01 364.95 L445.73 365.04 L446.44 365.13 L447.15 365.22 L447.87 365.31 L448.58 365.40 L449.29 365.49 L450.01 365.58 L450.72 365.67 L451.43 365.76 L452.15 365.84 L453.04 365.95 L453.93 366.06 L454.82 366.17 L455.71 366.27 L456.60 366.38 L457.49 366.49 L458.38 366.59 L459.28 366.69 L460.17 366.80 L461.06 366.90 L461.95 367.00 L462.84 367.10 L463.73 367.21 L464.62 367.31 L465.51 367.41 L466.41 367.50 L467.30 367.60 L468.19 367.70 L469.08 367.80 L469.97 367.90 L470.86 367.99 L471.75 368.09 L472.64 368.18 L473.54 368.28 L474.43 368.37 L475.32 368.47 L476.21 368.56 L477.10 368.65 L477.99 368.74 L478.88 368.83 L479.78 368.92 L480.67 369.02 L481.56 369.11 L482.45 369.19 L483.34 369.28 L484.23 369.37 L485.12 369.46 L486.01 369.55 L486.91 369.63 L487.80 369.72 L488.69 369.81 L489.58 369.89 L490.47 369.98 L491.36 370.06 L492.25 370.14 L493.14 370.23 L494.04 370.31 L494.93 370.39 L495.82 370.47 L496.71 370.56 L497.60 370.64 L498.49 370.72 L499.38 370.80 L500.28 370.88 L501.17 370.96 L502.06 371.04 L502.95 371.11 L503.84 371.19 L504.73 371.27 L505.62 371.35 L506.51 371.42 L507.41 371.50 L508.30 371.58 L509.19 371.65 L510.08 371.73 L510.97 371.80 L511.86 371.88 L512.75 371.95 L513.64 372.02 L514.54 372.10 L515.43 372.17 L516.32 372.24 L517.21 372.31 L518.10 372.38 L518.99 372.46 L519.88 372.53 L520.77 372.60 L521.67 372.67 L522.56 372.74 L523.45 372.81 L524.34 372.87 L525.23 372.94 L526.12 373.01 L527.01 373.08 L527.91 373.15 L528.80 373.21 L529.69 373.28 L530.58 373.35 L531.47 373.41 L532.36 373.48 L533.25 373.54 L534.14 373.61 L535.04 373.67 L535.93 373.74 L536.82 373.80 L537.71 373.87 L538.60 373.93 L539.49 373.99 L540.38 374.05 L541.27 374.12 L542.17 374.18 L543.06 374.24 L543.95 374.30 L544.84 374.36 L545.73 374.42 L546.62 374.48 L547.51 374.54 L548.41 374.60 L549.30 374.66 L550.19 374.72 L551.08 374.78 L551.97 374.84 L552.86 374.90 L553.75 374.96 L554.64 375.02 L555.54 375.07 L556.43 375.13 L557.32 375.19 L558.21 375.24 L559.10 375.30 L559.99 375.36 L560.88 375.41 L561.77 375.47 L562.67 375.52 L563.56 375.58 L564.45 375.63 L565.34 375.69 L566.23 375.74 L567.12 375.80 L568.01 375.85 L568.90 375.90 L569.80 375.96 L570.69 376.01 L571.58 376.06 L572.47 376.11 L573.36 376.17 L574.25 376.22 L575.14 376.27 L576.04 376.32 L576.93 376.37 L577.82 376.42 L578.71 376.47 L579.60 376.52 L580.49 376.57 L581.38 376.62 L582.27 376.67 L583.17 376.72 L584.06 376.77 L584.95 376.82 L585.84 376.87 L586.73 376.92 L587.62 376.97 L588.51 377.01 L589.40 377.06 L590.30 377.11 L591.19 377.16 L592.08 377.20 L592.97 377.25 L593.86 377.30 L594.75 377.34 L595.64 377.39 L596.54 377.44 L597.43 377.48 L598.32 377.53 L599.21 377.57 L600.10 377.62 L600.99 377.66 L601.88 377.71 L602.77 377.75 L603.67 377.80 L604.56 377.84 L605.45 377.88 L606.34 377.93 L607.23 377.97 L608.12 378.02 L609.01 378.06 L609.90 378.10 L610.80 378.14 L611.69 378.19 L612.58 378.23 L613.47 378.27 L614.36 378.31 L615.25 378.35 L616.14 378.40 L617.03 378.44 L617.93 378.48 L618.82 378.52 L619.71 378.56 L620.60 378.60 L621.49 378.64 L622.38 378.68 L623.27 378.72 L624.17 378.76 L625.06 378.80 L625.95 378.84 L626.84 378.88 L627.73 378.92 L628.62 378.96 L629.51 379.00 L630.40 379.04 L631.30 379.08 L632.19 379.11 L633.08 379.15 L633.97 379.19 L634.86 379.23 L635.75 379.27 L636.64 379.30 L637.53 379.34 L638.43 379.38 L639.32 379.42 L640.21 379.45 L641.10 379.49 L641.10 379.49" stroke="#00ff00" stroke-dasharray="11.4 3.8 3.8 3.8"/>
</g>
<path d="M116.22 392.0 v-4 M116.22 61.74 v4 M135.66 392.0 v-4 M135.66 61.74 v4 M155.10 392.0 v-6.5 M155.10 61.74 v6.5 M174.54 392.0 v-4 M174.54 61.74 v4 M193.98 392.0 v-4 M193.98 61.74 v4 M213.42 392.0 v-4 M213.42 61.74 v4 M232.86 392.0 v-4 M232.86 61.74 v4 M252.30 392.0 v-6.5 M252.30 61.74 v6.5 M271.74 392.0 v-4 M271.74 61.74 v4 M291.18 392.0 v-4 M291.18 61.74 v4 M310.62 392.0 v-4 M310.62 61.74 v4 M330.06 392.0 v-4 M330.06 61.74 v4 M349.50 392.0 v-6.5 M349.50 61.74 v6.5 M368.94 392.0 v-4 M368.94 61.74 v4 M388.38 392.0 v-4 M388.38 61.74 v4 M407.82 392.0 v-4 M407.82 61.74 v4 M427.26 392.0 v-4 M427.26 61.74 v4 M446.70 392.0 v-6.5 M446.70 61.74 v6.5 M466.14 392.0 v-4 M466.14 61.74 v4 M485.58 392.0 v-4 M485.58 61.74 v4 M505.02 392.0 v-4 M505.02 61.74 v4 M524.46 392.0 v-4 M524.46 61.74 v4 M543.90 392.0 v-6.5 M543.90 61.74 v6.5 M563.34 392.0 v-4 M563.34 61.74 v4 M582.78 392.0 v-4 M582.78 61.74 v4 M602.22 392.0 v-4 M602.22 61.74 v4 M621.66 392.0 v-4 M621.66 61.74 v4 M106.5 380.20 h4 M641.10 380.20 h-4 M106.5 368.41 h4 M641.10 368.41 h-4 M106.5 356.62 h4 M641.10 356.62 h-4 M106.5 344.82 h4 M641.10 344.82 h-4 M106.5 333.02 h7 M641.10 333.02 h-7 M106.5 321.23 h4 M641.10 321.23 h-4 M106.5 309.44 h4 M641.10 309.44 h-4 M106.5 297.64 h4 M641.10 297.64 h-4 M106.5 285.85 h4 M641.10 285.85 h-4 M106.5 274.05 h7 M641.10 274.05 h-7 M106.5 262.25 h4 M641.10 262.25 h-4 M106.5 250.46 h4 M641.10 250.46 h-4 M106.5 238.66 h4 M641.10 238.66 h-4 M106.5 226.87 h4 M641.10 226.87 h-4 M106.5 215.07 h7 M641.10 215.07 h-7 M106.5 203.28 h4 M641.10 203.28 h-4 M106.5 191.48 h4 M641.10 191.48 h-4 M106.5 179.69 h4 M641.10 179.69 h-4 M106.5 167.89 h4 M641.10 167.89 h-4 M106.5 156.10 h7 M641.10 156.10 h-7 M106.5 144.30 h4 M641.10 144.30 h-4 M106.5 132.51 h4 M641.10 132.51 h-4 M106.5 120.71 h4 M641.10 120.71 h-4 M106.5 108.92 h4 M641.10 108.92 h-4 M106.5 97.12 h7 M641.10 97.12 h-7 M106.5 85.33 h4 M641.10 85.33 h-4 M106.5 73.53 h4 M641.10 73.53 h-4" stroke="#000" stroke-width="1" fill="none"/>
<rect x="106.5" y="61.74" width="534.60" height="330.26" fill="none" stroke="#000" stroke-width="1.1"/>
<g class="sans"><text transform="translate(154.7 421.6) scale(0.99 1.06)" text-anchor="middle">1</text><text transform="translate(251.9 421.6) scale(0.99 1.06)" text-anchor="middle">2</text><text transform="translate(349.1 421.6) scale(0.99 1.06)" text-anchor="middle">3</text><text transform="translate(446.3 421.6) scale(0.99 1.06)" text-anchor="middle">4</text><text transform="translate(543.5 421.6) scale(0.99 1.06)" text-anchor="middle">5</text><text transform="translate(640.7 421.6) scale(0.99 1.06)" text-anchor="middle">6</text><text transform="translate(100.3 400.3) scale(0.99 1.06)" text-anchor="end">0.0</text><text transform="translate(100.3 341.3) scale(0.99 1.06)" text-anchor="end">0.5</text><text transform="translate(100.3 282.4) scale(0.99 1.06)" text-anchor="end">1.0</text><text transform="translate(100.3 223.4) scale(0.99 1.06)" text-anchor="end">1.5</text><text transform="translate(100.3 164.4) scale(0.99 1.06)" text-anchor="end">2.0</text><text transform="translate(100.3 105.4) scale(0.99 1.06)" text-anchor="end">2.5</text></g>
<g fill="none" stroke-width="3.8">
<path d="M432.7 113 H505.7" stroke="#000"/>
<path d="M432.7 150.4 H505.7" stroke="#0000ff" stroke-dasharray="11.4 3.8"/>
<path d="M432.7 187.8 H505.7" stroke="#ff0000" stroke-dasharray="3.9 3.7"/>
<path d="M432.7 225.2 H505.7" stroke="#00ff00" stroke-dasharray="11.5 3.7 3.9 3.7"/>
</g>
<g class="ser" style="stroke-width:0.15px"><text transform="translate(515.18 120.71) scale(0.9634 1)" font-size="26.83" font-style="italic" fill="#000">Q</text><text transform="translate(539.79 123.27) scale(1.2118 1)" font-size="25.20" font-style="italic" fill="#000" stroke="none">=</text><text transform="translate(562.81 120.03) scale(1.0090 1)" font-size="24.56" font-style="italic" fill="#000">0.30</text><text transform="translate(515.18 158.11) scale(0.9634 1)" font-size="26.83" font-style="italic" fill="#000">Q</text><text transform="translate(539.79 160.67) scale(1.2118 1)" font-size="25.20" font-style="italic" fill="#000" stroke="none">=</text><text transform="translate(562.81 157.43) scale(1.0034 1)" font-size="24.56" font-style="italic" fill="#000">0.45</text><text transform="translate(515.18 195.51) scale(0.9634 1)" font-size="26.83" font-style="italic" fill="#000">Q</text><text transform="translate(539.79 198.07) scale(1.2118 1)" font-size="25.20" font-style="italic" fill="#000" stroke="none">=</text><text transform="translate(562.81 194.83) scale(1.0090 1)" font-size="24.56" font-style="italic" fill="#000">0.60</text><text transform="translate(515.18 232.91) scale(0.9634 1)" font-size="26.83" font-style="italic" fill="#000">Q</text><text transform="translate(539.79 235.47) scale(1.2118 1)" font-size="25.20" font-style="italic" fill="#000" stroke="none">=</text><text transform="translate(562.81 232.23) scale(1.0034 1)" font-size="24.56" font-style="italic" fill="#000">0.75</text></g>
<g class="ser"><text transform="translate(207.98 37.01) scale(0.7040 1)" font-size="30.30" font-style="normal" fill="#000" stroke="none">&#123;</text><text transform="translate(226.32 36.80) scale(1.0029 1)" font-size="32.15" font-style="italic" fill="#000">M</text><text transform="translate(261.92 41.34) scale(1.0344 1)" font-size="36.80" font-style="italic" fill="#000" stroke="none">=</text><text transform="translate(291.48 36.80) scale(1.0465 1)" font-size="30.69" font-style="italic" fill="#000">1</text><text transform="translate(311.80 36.81) scale(1.2114 1)" font-size="29.27" font-style="italic" fill="#000" stroke="none">;</text><text transform="translate(327.38 36.80) scale(1.2472 1)" font-size="30.87" font-style="italic" fill="#000">l</text><text transform="translate(344.15 41.34) scale(1.0051 1)" font-size="36.80" font-style="italic" fill="#000" stroke="none">=</text><text transform="translate(373.71 36.73) scale(0.9530 1)" font-size="31.32" font-style="italic" fill="#000">0.50</text><text transform="translate(432.71 36.81) scale(1.1337 1)" font-size="29.27" font-style="italic" fill="#000" stroke="none">;</text><text transform="translate(448.77 36.80) scale(1.1986 1)" font-size="30.87" font-style="italic" fill="#000">l</text><text transform="translate(458.46 40.74) scale(0.7920 1)" font-size="26.43" font-style="italic" fill="#000">b</text><text transform="translate(476.37 41.34) scale(1.0227 1)" font-size="36.80" font-style="italic" fill="#000" stroke="none">=</text><text transform="translate(506.63 36.80) scale(1.0006 1)" font-size="30.69" font-style="italic" fill="#000">1</text><text transform="translate(529.17 36.93) scale(0.6737 1)" font-size="30.18" font-style="normal" fill="#000" stroke="none">&#125;</text></g>
<g class="ser"><text transform="translate(41.61 258.47) rotate(-90) scale(0.9531 1)" font-size="39.55" font-style="italic">V</text><text transform="translate(40.74 233.19) rotate(-90) scale(1.0458 1)" font-size="36.00" font-style="normal" stroke="none">(</text><text transform="translate(42.39 220.27) rotate(-90) scale(1.0168 1)" font-size="38.49" font-style="italic">r</text><text transform="translate(40.74 205.71) rotate(-90) scale(1.0256 1)" font-size="36.00" font-style="normal" stroke="none">)</text><text transform="translate(366.22 485.69) scale(1.0417 1)" font-size="37.85" font-style="italic" fill="#000">r</text></g>
</svg>
</body></html>
